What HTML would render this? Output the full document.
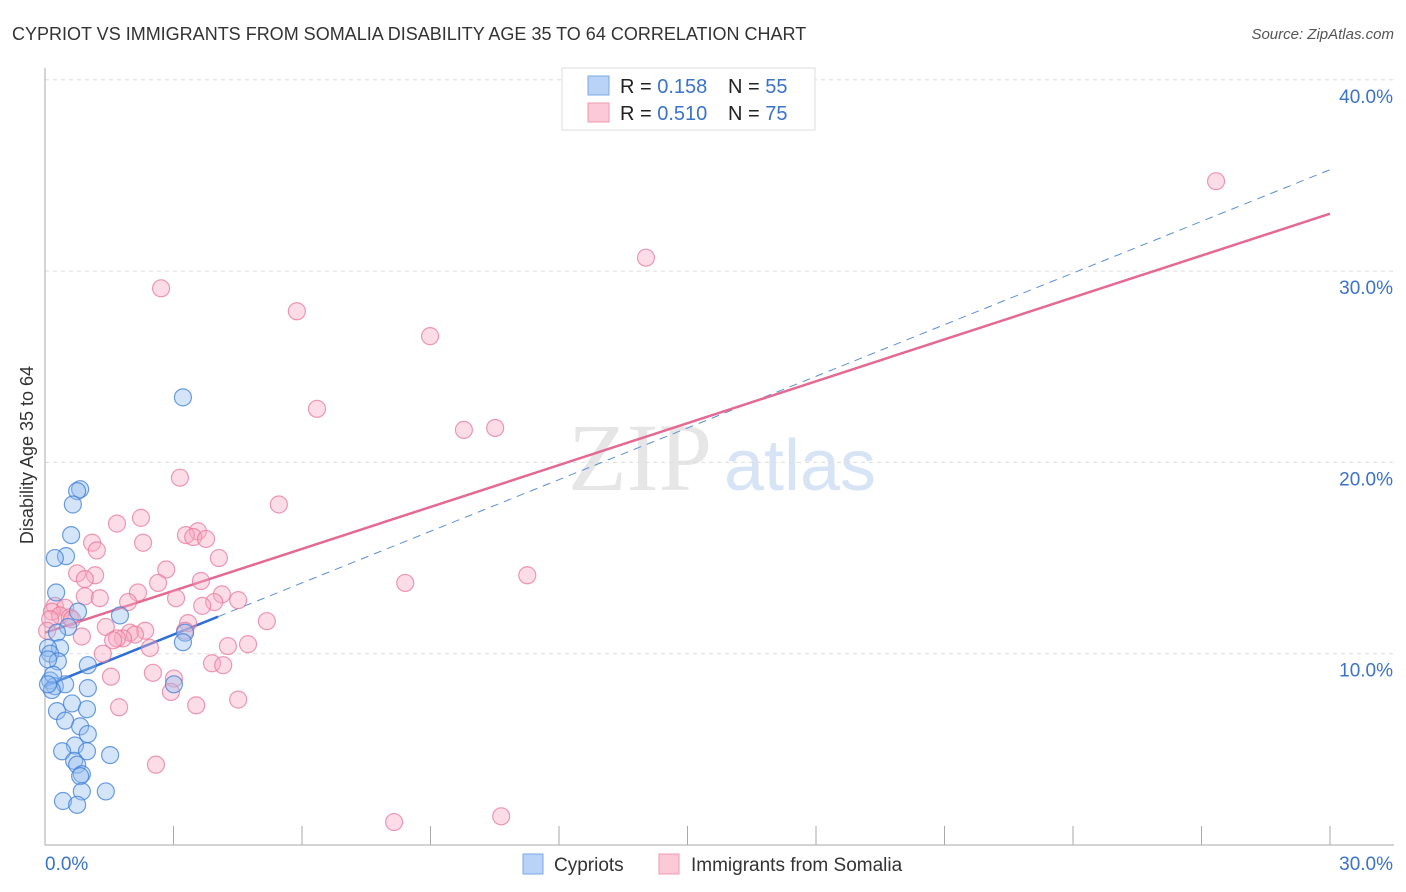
<!DOCTYPE html>
<html><head><meta charset="utf-8"><style>
body{margin:0;background:#fff;font-family:"Liberation Sans",sans-serif;}
svg{display:block}
</style></head><body>
<svg id="chart" width="1406" height="892" xmlns="http://www.w3.org/2000/svg">
<text x="12" y="40" font-size="18" fill="#333">CYPRIOT VS IMMIGRANTS FROM SOMALIA DISABILITY AGE 35 TO 64 CORRELATION CHART</text>
<text x="1394" y="39" font-size="15" fill="#555" font-style="italic" text-anchor="end">Source: ZipAtlas.com</text>
<text x="640" y="490" font-size="96" fill="#e6e6e6" font-family="Liberation Serif,serif" text-anchor="middle">ZIP</text>
<text x="800" y="490" font-size="72" fill="#d6e4f5" text-anchor="middle">atlas</text>
<g id="grid"></g>
<g id="axes"></g>
<g id="trend"></g>
<g id="pts"></g>
<text transform="translate(33,455) rotate(-90)" font-size="18" fill="#333" text-anchor="middle">Disability Age 35 to 64</text>
<g>
<rect x="562" y="68" width="253" height="62" fill="#fff" stroke="#ddd"/>
<rect x="588" y="76" width="21" height="19" fill="#b8d3f5" stroke="#7aa9e6"/>
<rect x="588" y="103" width="21" height="19" fill="#fcc9d7" stroke="#ee9ab2"/>
<text x="620" y="93" font-size="20" fill="#222">R = <tspan fill="#3a73c9">0.158</tspan></text>
<text x="728" y="93" font-size="20" fill="#222">N = <tspan fill="#3a73c9">55</tspan></text>
<text x="620" y="120" font-size="20" fill="#222">R = <tspan fill="#3a73c9">0.510</tspan></text>
<text x="728" y="120" font-size="20" fill="#222">N = <tspan fill="#3a73c9">75</tspan></text>
</g>
<g>
<rect x="523" y="854" width="20" height="20" fill="#b8d3f5" stroke="#7aa9e6"/>
<text x="554" y="871" font-size="19" fill="#333">Cypriots</text>
<rect x="659" y="854" width="20" height="20" fill="#fcc9d7" stroke="#ee9ab2"/>
<text x="691" y="871" font-size="19" fill="#333">Immigrants from Somalia</text>
</g>
</svg>
<script>
const yTicks=[10,20,30,40];
const yTickLabels=["10.0%","20.0%","30.0%","40.0%"];
const xTickLabels=["0.0%","30.0%"];
const blueX=[3.22,0.82,0.75,0.65,0.61,0.49,0.23,0.26,1.75,0.77,0.54,0.28,0.35,0.07,0.12,0.30,1.0,3.27,3.22,3.01,0.12,0.23,0.47,0.16,1.0,0.28,0.63,0.98,0.47,0.82,1.0,0.70,0.40,0.98,1.52,0.68,0.75,0.86,0.82,0.86,1.42,0.42,0.75,0.07,0.19,0.07];
const blueY=[23.4,18.6,18.5,17.8,16.2,15.1,15.0,13.2,12.0,12.2,11.4,11.1,10.3,10.3,10.0,9.6,9.4,11.1,10.6,8.4,8.6,8.3,8.4,8.1,8.2,7.0,7.4,7.1,6.5,6.2,5.8,5.2,4.9,4.9,4.7,4.4,4.2,3.7,3.6,2.8,2.8,2.3,2.1,9.7,8.9,8.4];
const pinkX=[27.34,14.03,2.71,5.88,8.99,6.35,9.78,10.51,3.15,5.46,2.24,1.68,3.57,3.29,3.46,3.76,2.29,1.10,1.21,4.06,2.83,0.75,1.17,0.93,2.64,3.64,8.41,11.26,2.17,4.13,0.93,1.28,3.06,4.51,3.95,1.94,3.67,0.23,0.47,0.16,0.35,0.58,0.63,5.18,3.34,1.42,3.27,2.34,1.98,2.10,0.86,1.82,1.68,1.59,2.45,4.27,4.74,1.35,3.90,4.16,1.54,2.52,3.01,2.94,3.53,4.51,1.73,2.59,8.15,10.65,0.12,0.05];
const pinkY=[34.7,30.7,29.1,27.9,26.6,22.8,21.7,21.8,19.2,17.8,17.1,16.8,16.4,16.2,16.1,16.0,15.8,15.8,15.4,15.0,14.4,14.2,14.1,13.9,13.7,13.8,13.7,14.1,13.2,13.1,13.0,12.9,12.9,12.8,12.7,12.7,12.5,12.5,12.4,12.2,12.0,11.9,11.8,11.7,11.6,11.4,11.2,11.2,11.1,11.0,10.9,10.8,10.8,10.7,10.3,10.4,10.5,10.0,9.5,9.4,8.8,9.0,8.7,8.0,7.3,7.6,7.2,4.2,1.2,1.5,11.8,11.2];
const pinkTrend=[11.1,33.0];
const blueTrend=[8.3,35.3];
const blueSolidEnd=4.04;
const NS="http://www.w3.org/2000/svg";
const X=v=>45+v/30*1285;
const Y=v=>845-v*19.13;
function mk(tag,attrs,parent){const e=document.createElementNS(NS,tag);for(const k in attrs)e.setAttribute(k,attrs[k]);parent.appendChild(e);return e;}
const grid=document.getElementById('grid'),axes=document.getElementById('axes');
yTicks.forEach((t,i)=>{
 const l=mk('line',{x1:45,x2:1394,y1:Y(t),y2:Y(t),stroke:'#ddd','stroke-dasharray':'4,4'},grid);
 
 
 const tx=mk('text',{x:1393,y:Y(t)+23,'font-size':19,fill:'#3a73c9','text-anchor':'end'},axes);
 tx.textContent=yTickLabels[i];
 
 
});
mk('line',{x1:45,x2:45,y1:68,y2:845,stroke:'#aaa'},axes);
mk('line',{x1:45,x2:1394,y1:845,y2:845,stroke:'#aaa'},axes);
for(let i=0;i<=10;i++){const t=mk('line',{x1:X(i*3),x2:X(i*3),y1:826,y2:845,stroke:'#aaa'},axes);
 
 }
const xl0=mk('text',{x:45,y:870,'font-size':19,fill:'#3a73c9'},axes);xl0.textContent=xTickLabels[0];


const xl1=mk('text',{x:1393,y:870,'font-size':19,fill:'#3a73c9','text-anchor':'end'},axes);xl1.textContent=xTickLabels[1];


const pts=document.getElementById('pts');
pinkX.forEach((x,i)=>{const c=mk('circle',{cx:X(x),cy:Y(pinkY[i]),r:8.5,fill:'rgba(248,170,195,0.4)',stroke:'rgba(232,120,155,0.75)','stroke-width':1.2},pts);
 
 });
blueX.forEach((x,i)=>{const c=mk('circle',{cx:X(x),cy:Y(blueY[i]),r:8.5,fill:'rgba(150,190,240,0.4)',stroke:'rgba(60,125,215,0.75)','stroke-width':1.2},pts);
 
 });
const tr=document.getElementById('trend');
const bAt=v=>blueTrend[0]+(blueTrend[1]-blueTrend[0])*v/30;
const bd=mk('line',{x1:X(blueSolidEnd),y1:Y(bAt(blueSolidEnd)),x2:X(30),y2:Y(blueTrend[1]),stroke:'#5b8fd9','stroke-width':1,'stroke-dasharray':'8,6'},tr);


const pl=mk('line',{x1:X(0),y1:Y(pinkTrend[0]),x2:X(30),y2:Y(pinkTrend[1]),stroke:'#e46a92','stroke-width':2.5},tr);


const bl=mk('line',{x1:X(0),y1:Y(blueTrend[0]),x2:X(blueSolidEnd),y2:Y(bAt(blueSolidEnd)),stroke:'#2f6fd6','stroke-width':2.5},tr);


</script>
</body></html>
